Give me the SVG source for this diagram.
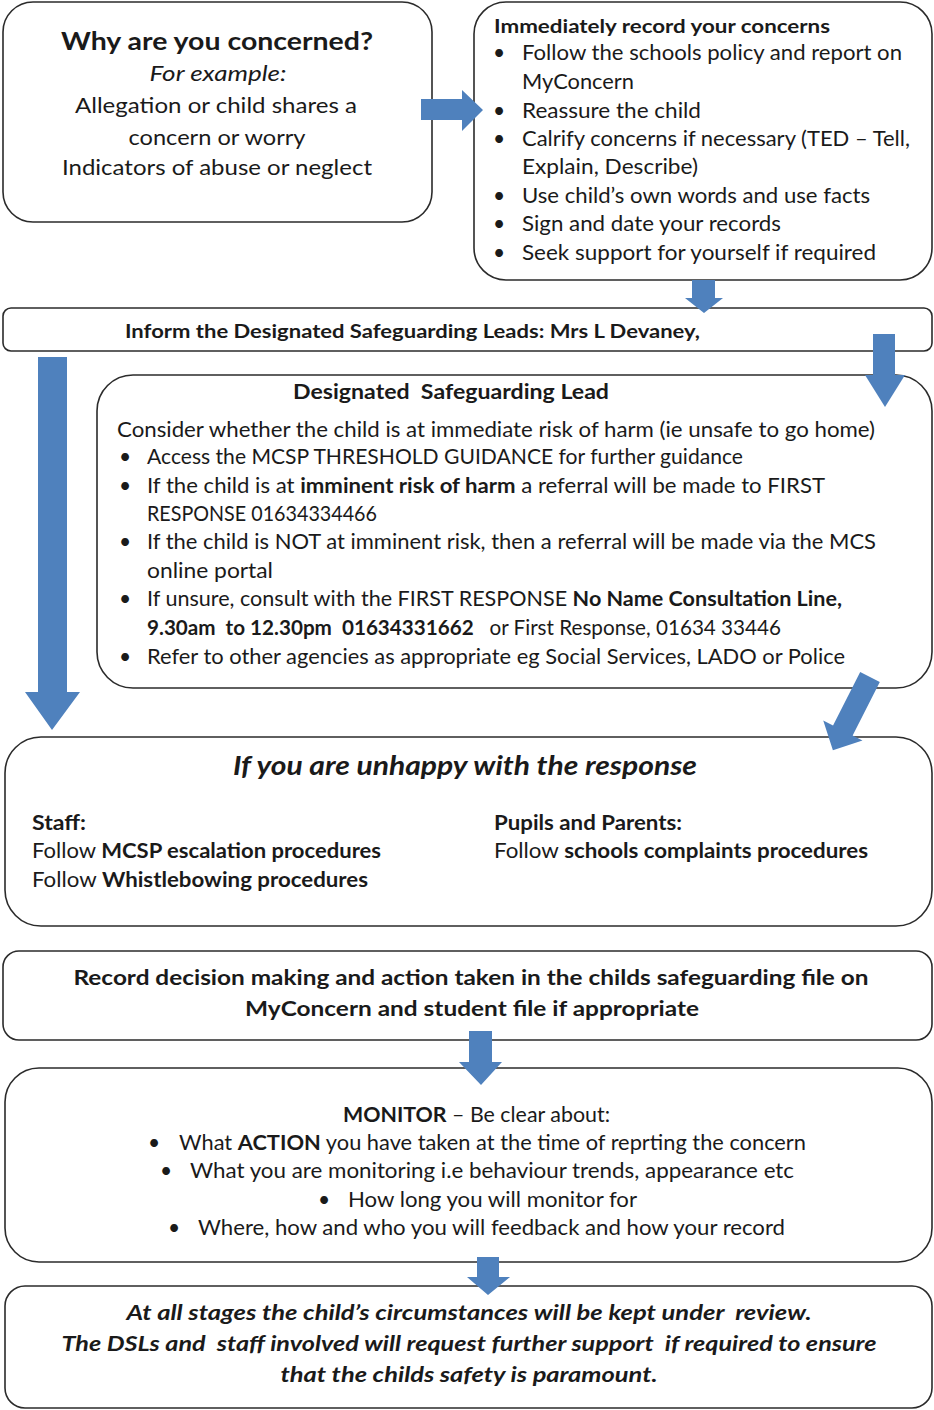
<svg xmlns="http://www.w3.org/2000/svg" width="934" height="1410" viewBox="0 0 934 1410">
<style>
.box{fill:#fff;stroke:#2b2b2b;stroke-width:1.6}
.arr{fill:#4f81bd}
text{font-family:Lato,"Open Sans","Liberation Sans",sans-serif;fill:#1a1a1a;white-space:pre}
.b{font-weight:bold}
.i{font-style:italic}
.t19{font-size:19px}
.t21{font-size:21px}
</style>
<rect width="934" height="1410" fill="#fff"/>
<g id="why">
<rect class="box" x="3" y="2" width="429" height="220" rx="30"/>
<text class="b" x="217" y="50" font-size="25" text-anchor="middle" textLength="312" lengthAdjust="spacingAndGlyphs">Why are you concerned?</text>
<text class="i t21" x="218" y="81" text-anchor="middle" textLength="137" lengthAdjust="spacingAndGlyphs">For example:</text>
<text class="t21" x="216" y="113" text-anchor="middle" textLength="282" lengthAdjust="spacingAndGlyphs">Allegation or child shares a</text>
<text class="t21" x="217" y="145" text-anchor="middle" textLength="177" lengthAdjust="spacingAndGlyphs">concern or worry</text>
<text class="t21" x="217" y="175" text-anchor="middle" textLength="310" lengthAdjust="spacingAndGlyphs">Indicators of abuse or neglect</text>
</g>
<g id="record-concerns">
<rect class="box" x="474" y="2" width="458" height="278" rx="32"/>
<text class="b" x="494" y="33" font-size="19" textLength="336" lengthAdjust="spacingAndGlyphs">Immediately record your concerns</text>
<g class="t21">
<text x="493" y="60">•</text><text x="522" y="60" textLength="380" lengthAdjust="spacingAndGlyphs">Follow the schools policy and report on</text>
<text x="522" y="89" textLength="112" lengthAdjust="spacingAndGlyphs">MyConcern</text>
<text x="493" y="118">•</text><text x="522" y="118" textLength="179" lengthAdjust="spacingAndGlyphs">Reassure the child</text>
<text x="493" y="146">•</text><text x="522" y="146" textLength="388" lengthAdjust="spacingAndGlyphs">Calrify concerns if necessary (TED – Tell,</text>
<text x="522" y="174" textLength="176" lengthAdjust="spacingAndGlyphs">Explain, Describe)</text>
<text x="493" y="203">•</text><text x="522" y="203" textLength="348" lengthAdjust="spacingAndGlyphs">Use child’s own words and use facts</text>
<text x="493" y="231">•</text><text x="522" y="231" textLength="259" lengthAdjust="spacingAndGlyphs">Sign and date your records</text>
<text x="493" y="260">•</text><text x="522" y="260" textLength="354" lengthAdjust="spacingAndGlyphs">Seek support for yourself if required</text>
</g>
</g>
<g id="inform">
<rect class="box" x="3" y="308" width="929" height="43" rx="8"/>
<text class="b" x="125" y="338" font-size="19" textLength="575" lengthAdjust="spacingAndGlyphs">Inform the Designated Safeguarding Leads: Mrs L Devaney,</text>
</g>
<g id="dsl">
<rect class="box" x="97" y="375" width="835" height="313" rx="36"/>
<text class="b" x="293" y="399" font-size="20" textLength="316" lengthAdjust="spacingAndGlyphs">Designated  Safeguarding Lead</text>
<g class="t21">
<text x="117" y="437" textLength="758" lengthAdjust="spacingAndGlyphs">Consider whether the child is at immediate risk of harm (ie unsafe to go home)</text>
<text x="119" y="464">•</text><text x="147" y="464" textLength="596" lengthAdjust="spacingAndGlyphs">Access the MCSP THRESHOLD GUIDANCE for further guidance</text>
<text x="119" y="493">•</text><text x="147" y="493" textLength="678" lengthAdjust="spacingAndGlyphs">If the child is at <tspan class="b">imminent risk of harm</tspan> a referral will be made to FIRST</text>
<text x="147" y="521" textLength="230" lengthAdjust="spacingAndGlyphs">RESPONSE 01634334466</text>
<text x="119" y="549">•</text><text x="147" y="549" textLength="729" lengthAdjust="spacingAndGlyphs">If the child is NOT at imminent risk, then a referral will be made via the MCS</text>
<text x="147" y="578" textLength="126" lengthAdjust="spacingAndGlyphs">online portal</text>
<text x="119" y="606">•</text><text x="147" y="606" textLength="695" lengthAdjust="spacingAndGlyphs">If unsure, consult with the FIRST RESPONSE <tspan class="b">No Name Consultation Line,</tspan></text>
<text x="147" y="635" textLength="634" lengthAdjust="spacingAndGlyphs"><tspan class="b">9.30am  to 12.30pm  01634331662</tspan>   or First Response, 01634 33446</text>
<text x="119" y="664">•</text><text x="147" y="664" textLength="698" lengthAdjust="spacingAndGlyphs">Refer to other agencies as appropriate eg Social Services, LADO or Police</text>
</g>
</g>
<g id="unhappy">
<rect class="box" x="5" y="737" width="927" height="189" rx="36"/>
<text class="b i" x="233" y="775" font-size="26" textLength="464" lengthAdjust="spacingAndGlyphs">If you are unhappy with the response</text>
<g class="t21">
<text class="b" x="32" y="830" textLength="54" lengthAdjust="spacingAndGlyphs">Staff:</text>
<text x="32" y="858" textLength="349" lengthAdjust="spacingAndGlyphs">Follow <tspan class="b">MCSP escalation procedures</tspan></text>
<text x="32" y="887" textLength="336" lengthAdjust="spacingAndGlyphs">Follow <tspan class="b">Whistlebowing procedures</tspan></text>
<text class="b" x="494" y="830" textLength="188" lengthAdjust="spacingAndGlyphs">Pupils and Parents:</text>
<text x="494" y="858" textLength="374" lengthAdjust="spacingAndGlyphs">Follow <tspan class="b">schools complaints procedures</tspan></text>
</g>
</g>
<g id="record-decision">
<rect class="box" x="3" y="951" width="929" height="89" rx="16"/>
<text class="b t21" x="471" y="985" text-anchor="middle" textLength="795" lengthAdjust="spacingAndGlyphs">Record decision making and action taken in the childs safeguarding file on</text>
<text class="b t21" x="472" y="1016" text-anchor="middle" textLength="454" lengthAdjust="spacingAndGlyphs">MyConcern and student file if appropriate</text>
</g>
<g id="monitor">
<rect class="box" x="5" y="1068" width="927" height="194" rx="34"/>
<g class="t21">
<text x="343" y="1122" textLength="267" lengthAdjust="spacingAndGlyphs"><tspan class="b">MONITOR</tspan> – Be clear about:</text>
<text x="148" y="1150">•</text><text x="179" y="1150" textLength="627" lengthAdjust="spacingAndGlyphs">What <tspan class="b">ACTION</tspan> you have taken at the time of reprting the concern</text>
<text x="160" y="1178">•</text><text x="190" y="1178" textLength="604" lengthAdjust="spacingAndGlyphs">What you are monitoring i.e behaviour trends, appearance etc</text>
<text x="318" y="1207">•</text><text x="348" y="1207" textLength="289" lengthAdjust="spacingAndGlyphs">How long you will monitor for</text>
<text x="168" y="1235">•</text><text x="198" y="1235" textLength="587" lengthAdjust="spacingAndGlyphs">Where, how and who you will feedback and how your record</text>
</g>
</g>
<g id="review">
<rect class="box" x="5" y="1286" width="927" height="122" rx="20"/>
<g class="b i t21">
<text x="469" y="1320" text-anchor="middle" textLength="685" lengthAdjust="spacingAndGlyphs">At all stages the child’s circumstances will be kept under  review.</text>
<text x="469" y="1351" text-anchor="middle" textLength="815" lengthAdjust="spacingAndGlyphs">The DSLs and  staff involved will request further support  if required to ensure</text>
<text x="469" y="1382" text-anchor="middle" textLength="377" lengthAdjust="spacingAndGlyphs">that the childs safety is paramount.</text>
</g>
</g>
<g id="connectors">
<polygon class="arr" points="421,99 462,99 462,90 483,110 462,131 462,120 421,120"/>
<polygon class="arr" points="692,280 715,280 715,298 723,298 704,313 685,298 692,298"/>
<polygon class="arr" points="873,334 895,334 895,375 905,375 885,407 865,375 873,375"/>
<polygon class="arr" points="38,357 67,357 67,692 80,692 52,730 25,692 38,692"/>
<polygon class="arr" transform="translate(870,677) rotate(26.9)" points="-11,0 11,0 11,60 22,60 0,82 -22,60 -11,60"/>
<polygon class="arr" points="469,1031 492,1031 492,1062 502,1062 481,1085 459,1062 469,1062"/>
<polygon class="arr" points="477,1257 499,1257 499,1277 510,1277 488,1295 467,1277 477,1277"/>
</g>
</svg>
